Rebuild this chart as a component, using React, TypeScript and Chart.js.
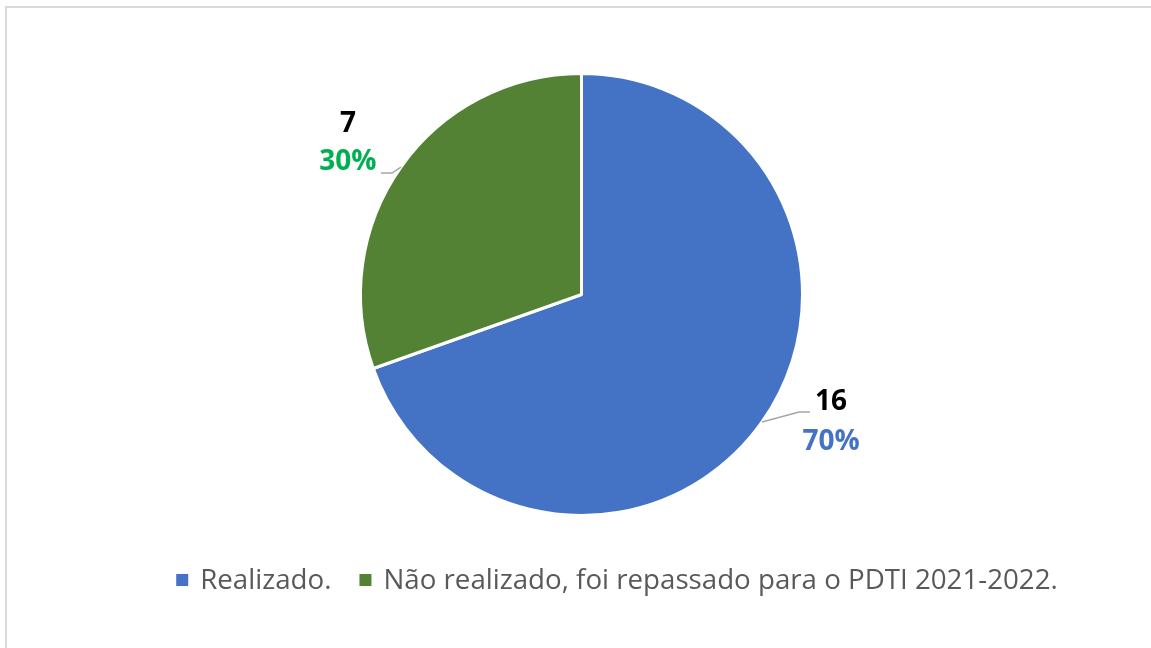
import React, { useEffect, useRef } from "react";
import { Chart, registerables } from "chart.js";

Chart.register(...registerables);

const categories = ["Realizado.", "Não realizado, foi repassado para o PDTI 2021-2022."];
const values = [16, 7];
const percentLabels = ["70%", "30%"];
const sliceColors = ["#4472C4", "#548235"];
const percentColors = ["#4472C4", "#00B050"];

const LABEL_FONT = "bold 28px 'Open Sans', sans-serif";
const LEGEND_FONT = "27.7px 'Open Sans', sans-serif";

const excelPlugin = {
  id: "excelLabels",
  afterDatasetsDraw(chart: any) {
    const ctx: CanvasRenderingContext2D = chart.ctx;
    const meta = chart.getDatasetMeta(0);
    ctx.save();
    meta.data.forEach((arc: any, i: number) => {
      const p = arc.getProps(["x", "y", "startAngle", "endAngle", "outerRadius"], true);
      const mid = (p.startAngle + p.endAngle) / 2;
      const ax = p.x + Math.cos(mid) * p.outerRadius;
      const ay = p.y + Math.sin(mid) * p.outerRadius;
      const right = Math.cos(mid) >= 0;
      let ex: number, ey: number, tx: number, valY: number, pctY: number;
      ctx.strokeStyle = "#A6A6A6";
      ctx.lineWidth = 1.5;
      ctx.beginPath();
      if (right) {
        const bx = ax + 37;
        const by = ay - 10;
        ex = bx + 11;
        ey = by;
        ctx.moveTo(ax, ay);
        ctx.lineTo(bx, by);
        ctx.lineTo(ex, ey);
        tx = ex + 21;
        valY = ey - 10;
        pctY = ey + 30;
      } else {
        const bx = ax - 9;
        const by = ay + 6;
        ex = bx - 11;
        ey = by;
        ctx.moveTo(ax, ay);
        ctx.lineTo(bx, by);
        ctx.lineTo(ex, ey);
        tx = ex - 33;
        valY = ey - 49;
        pctY = ey - 11;
      }
      ctx.stroke();
      ctx.font = LABEL_FONT;
      ctx.textAlign = "center";
      ctx.textBaseline = "middle";
      ctx.fillStyle = "#000000";
      ctx.fillText(String(values[i]), tx, valY);
      ctx.fillStyle = percentColors[i];
      ctx.fillText(percentLabels[i], tx, pctY);
    });

    // legend
    ctx.font = LEGEND_FONT;
    const box = 12;
    const gapBoxText = 12;
    const gapItems = 28;
    const widths = categories.map((c) => ctx.measureText(c).width);
    let total = 0;
    widths.forEach((w, i) => {
      total += box + gapBoxText + w + (i < widths.length - 1 ? gapItems : 0);
    });
    const cx = 617;
    const cy = 580;
    let x = cx - total / 2;
    ctx.textAlign = "left";
    ctx.textBaseline = "middle";
    categories.forEach((c, i) => {
      ctx.fillStyle = sliceColors[i];
      ctx.fillRect(x, cy - box / 2, box, box);
      x += box + gapBoxText;
      ctx.fillStyle = "#595959";
      ctx.fillText(c, x, cy + 1);
      x += widths[i] + gapItems;
    });
    ctx.restore();
  },
};

export default function App() {
  const ref = useRef<HTMLCanvasElement | null>(null);
  useEffect(() => {
    if (!ref.current) return;
    const chart = new Chart(ref.current, {
      type: "pie",
      data: {
        labels: categories,
        datasets: [
          {
            data: values,
            backgroundColor: sliceColors,
            borderColor: "#FFFFFF",
            borderWidth: 3,
          },
        ],
      },
      options: {
        responsive: false,
        animation: false,
        devicePixelRatio: 1,
        layout: { padding: { top: 72, bottom: 131, left: 12, right: 0 } },
        plugins: {
          legend: { display: false },
          tooltip: { enabled: false },
        },
      },
      plugins: [excelPlugin],
    });
    return () => chart.destroy();
  }, []);

  return (
    <div
      style={{
        position: "fixed",
        left: 0,
        top: 0,
        width: 1151,
        height: 648,
        overflow: "hidden",
        background: "#FFFFFF",
      }}
    >
      <div
        style={{
          position: "absolute",
          left: 5,
          top: 6,
          width: 1200,
          height: 700,
          border: "2px solid #D9D9D9",
          boxSizing: "border-box",
        }}
      />
      <canvas
        ref={ref}
        width={1151}
        height={648}
        style={{ position: "absolute", left: 0, top: 0, width: 1151, height: 648 }}
      />
    </div>
  );
}
